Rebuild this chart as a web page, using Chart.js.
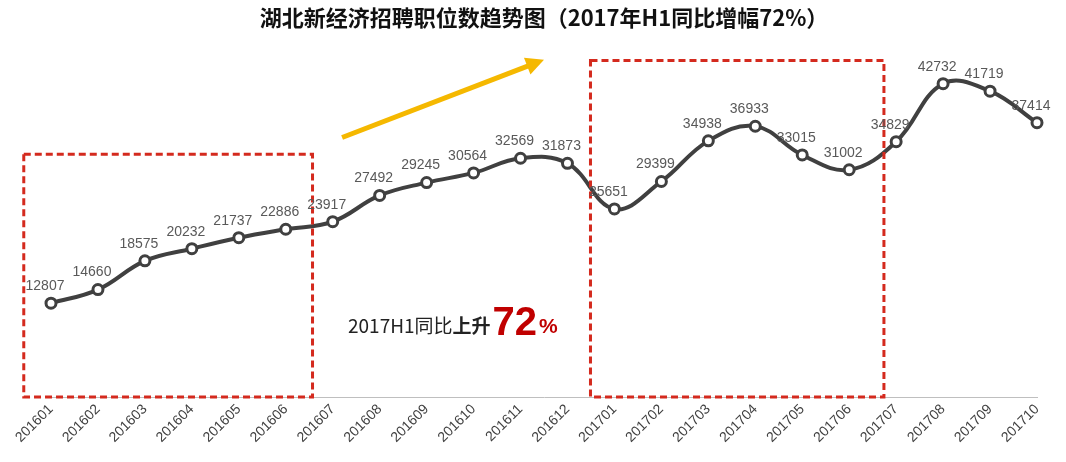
<!DOCTYPE html>
<html>
<head>
<meta charset="utf-8">
<script src="https://cdn.jsdelivr.net/npm/chart.js@4/dist/chart.umd.min.js"></script>
<style>
body { margin: 0; background: #fff; }
#wrap { width: 1066px; height: 462px; position: relative; }
</style>
</head>
<body>
<div id="wrap"><canvas id="chart"></canvas></div>
<script>
var months = ["201601","201602","201603","201604","201605","201606","201607","201608","201609","201610","201611","201612",
  "201701","201702","201703","201704","201705","201706","201707","201708","201709","201710"];
var jobs = [12807,14660,18575,20232,21737,22886,23917,27492,29245,30564,32569,31873,
  25651,29399,34938,36933,33015,31002,34829,42732,41719,37414];
// dashed boxes: [from index, to index, top value]
var boxes = [[-0.58, 5.57, 33100], [11.49, 17.74, 45900]];

var extras = {
  id: 'extras',
  afterDatasetsDraw: function (chart) {
    var c = chart.ctx, xs = chart.scales.x, ys = chart.scales.y;
    var step = xs.getPixelForValue(1) - xs.getPixelForValue(0);
    var x0 = xs.getPixelForValue(0);
    // boxes
    c.save();
    c.strokeStyle = '#d42a1e';
    c.lineWidth = 3;
    c.setLineDash([7, 4]);
    boxes.forEach(function (b) {
      var l = x0 + b[0] * step, r = x0 + b[1] * step;
      var t = ys.getPixelForValue(b[2]), bt = ys.getPixelForValue(0);
      c.strokeRect(l, t, r - l, bt - t);
    });
    c.restore();
    // value labels
    c.save();
    c.font = '14px "Liberation Sans", Arial, sans-serif';
    c.fillStyle = '#595959';
    c.textAlign = 'center';
    c.textBaseline = 'bottom';
    chart.getDatasetMeta(0).data.forEach(function (p, i) {
      c.fillText(jobs[i], p.x - 6, p.y - 10);
    });
    c.restore();
    // arrow
    c.save();
    var ax1 = x0 + 6.2 * step, ay1 = ys.getPixelForValue(35400);
    var ax2 = x0 + 10.5 * step, ay2 = ys.getPixelForValue(46000);
    c.strokeStyle = '#f5b800';
    c.fillStyle = '#f5b800';
    c.lineWidth = 5;
    var ang = Math.atan2(ay2 - ay1, ax2 - ax1);
    c.beginPath();
    c.moveTo(ax1, ay1);
    c.lineTo(ax2 - 12 * Math.cos(ang), ay2 - 12 * Math.sin(ang));
    c.stroke();
    c.beginPath();
    c.moveTo(ax2, ay2);
    c.lineTo(ax2 - 18 * Math.cos(ang) + 9 * Math.sin(ang), ay2 - 18 * Math.sin(ang) - 9 * Math.cos(ang));
    c.lineTo(ax2 - 18 * Math.cos(ang) - 9 * Math.sin(ang), ay2 - 18 * Math.sin(ang) + 9 * Math.cos(ang));
    c.closePath();
    c.fill();
    c.restore();
    // note text
    c.save();
    c.textBaseline = 'alphabetic';
    var tx = 348, ty = 333;
    c.font = '19px "Noto Sans CJK SC", sans-serif';
    c.fillStyle = '#222';
    var s1 = '2017H1同比';
    c.fillText(s1, tx, ty);
    tx += c.measureText(s1).width;
    c.font = 'bold 19px "Noto Sans CJK SC", sans-serif';
    c.fillText('上升', tx, ty);
    tx += c.measureText('上升').width + 2;
    c.fillStyle = '#c00000';
    c.font = 'bold 40px "Liberation Sans", sans-serif';
    c.fillText('72', tx, ty + 2);
    tx += c.measureText('72').width;
    c.font = 'bold 21px "Liberation Sans", sans-serif';
    c.fillText('%', tx + 2, ty);
    c.restore();
  }
};

var myChart = new Chart(document.getElementById('chart'), {
  type: 'line',
  data: {
    labels: months,
    datasets: [{
      data: jobs,
      borderColor: '#404040',
      borderWidth: 4,
      tension: 0.4,
      pointRadius: 5,
      pointBorderWidth: 3,
      pointBackgroundColor: '#fff',
      pointBorderColor: '#404040'
    }]
  },
  options: {
    responsive: true,
    maintainAspectRatio: false,
    animation: false,
    layout: { padding: { left: 51, right: 29, top: 0, bottom: 12 } },
    plugins: {
      legend: { display: false },
      tooltip: { enabled: false },
      title: {
        display: true,
        text: '湖北新经济招聘职位数趋势图（2017年H1同比增幅72%）',
        font: { family: '"Noto Sans CJK SC", sans-serif', size: 22, weight: 'bold' },
        color: '#111',
        padding: { top: 4, bottom: 22 }
      }
    },
    scales: {
      x: {
        offset: false,
        grid: { display: false, drawTicks: false },
        border: { color: '#bfbfbf', width: 1 },
        ticks: {
          color: '#404040',
          font: { family: '"Liberation Sans", Arial, sans-serif', size: 14 },
          maxRotation: 45, minRotation: 45, autoSkip: false, padding: 4
        }
      },
      y: {
        display: false,
        min: 0,
        max: 47000
      }
    }
  },
  plugins: [extras]
});
</script>
</body>
</html>
